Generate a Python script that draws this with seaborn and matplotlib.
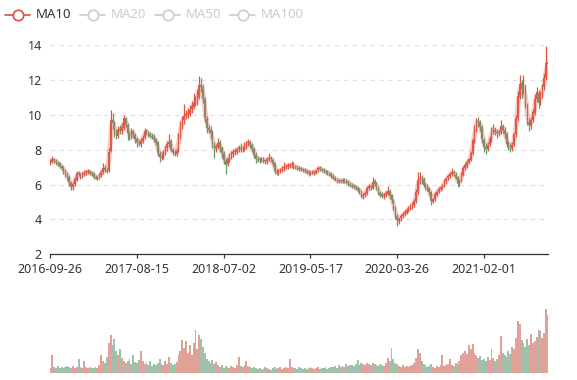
import matplotlib
matplotlib.use('Agg')
import matplotlib.pyplot as plt
from matplotlib.lines import Line2D
import numpy as np
import pandas as pd
import seaborn as sns

# weekly bars (one bar ~ 5 trading days)
tick_labels = ['2016-09-26', '2017-08-15', '2018-07-02', '2019-05-17', '2020-03-26', '2021-02-01']
tick_index = [0, 46, 92, 138, 184, 230]
legend_labels = ['MA10', 'MA20', 'MA50', 'MA100']

close = [
    7.32, 7.45, 7.38, 7.28, 7.20, 7.08, 6.95, 6.78, 6.62, 6.45,
    6.10, 5.85, 6.05, 6.30, 6.65, 6.60, 6.48, 6.60, 6.68, 6.72,
    6.75, 6.68, 6.62, 6.45, 6.40, 6.42, 6.55, 6.70, 6.95, 6.85,
    6.80, 7.90, 9.70, 9.55, 9.05, 8.85, 9.15, 9.10, 9.30, 9.80,
    9.45, 8.95, 8.80, 9.05, 8.85, 8.60, 8.45, 8.38, 8.50, 8.70,
    9.10, 9.00, 8.88, 8.82, 8.75, 8.62, 8.40, 7.80, 7.60, 7.65,
    7.85, 8.05, 8.35, 8.45, 8.00, 7.85, 7.80, 7.95, 8.80, 9.45,
    9.70, 9.95, 10.05, 10.10, 10.30, 10.50, 10.70, 10.85, 11.00, 11.70,
    11.60, 10.90, 9.80, 9.25, 9.15, 8.95, 8.30, 8.05, 8.20, 8.40,
    8.10, 7.80, 7.40, 7.15, 7.45, 7.65, 7.80, 7.85, 7.92, 8.00,
    8.10, 8.05, 8.05, 8.20, 8.35, 8.45, 8.25, 8.05, 7.70, 7.50,
    7.45, 7.42, 7.45, 7.40, 7.35, 7.45, 7.52, 7.45, 7.20, 6.80,
    6.72, 6.78, 6.85, 6.92, 7.02, 7.05, 7.08, 7.10, 7.15, 7.05,
    7.00, 6.95, 6.92, 6.88, 6.85, 6.80, 6.72, 6.65, 6.70, 6.72,
    6.68, 6.80, 6.95, 6.90, 6.84, 6.78, 6.72, 6.66, 6.60, 6.52,
    6.38, 6.28, 6.25, 6.22, 6.20, 6.24, 6.20, 6.15, 6.08, 6.00,
    5.92, 5.88, 5.80, 5.72, 5.60, 5.35, 5.40, 5.50, 5.80, 5.90,
    5.85, 6.15, 6.05, 5.85, 5.55, 5.42, 5.35, 5.40, 5.50, 5.62,
    5.35, 5.10, 4.70, 4.20, 3.95, 4.05, 4.20, 4.30, 4.42, 4.52,
    4.65, 4.75, 4.85, 5.05, 5.60, 6.25, 6.35, 6.30, 6.00, 5.90,
    5.80, 5.55, 5.05, 5.15, 5.45, 5.60, 5.75, 5.85, 5.95, 6.20,
    6.35, 6.50, 6.60, 6.70, 6.60, 6.40, 6.05, 6.25, 6.60, 6.95,
    7.10, 7.28, 7.45, 7.80, 8.55, 9.20, 9.60, 9.60, 9.30, 8.60,
    8.15, 8.05, 8.30, 8.60, 9.10, 9.12, 9.05, 8.95, 9.00, 9.35,
    9.15, 8.90, 8.35, 8.20, 8.10, 8.30, 8.90, 9.80, 11.10, 11.80,
    11.50, 11.60, 10.60, 9.60, 9.40, 9.70, 10.15, 10.90, 11.30, 10.70,
    11.20, 11.60, 12.10, 13.00, 12.90,
]

open_ = [
    7.25, 7.30, 7.46, 7.36, 7.27, 7.22, 7.06, 6.96, 6.80, 6.60,
    6.44, 6.12, 5.84, 6.06, 6.28, 6.66, 6.58, 6.47, 6.62, 6.66,
    6.73, 6.76, 6.66, 6.63, 6.46, 6.38, 6.43, 6.54, 6.72, 6.96,
    6.84, 6.82, 7.95, 9.72, 9.50, 9.08, 8.82, 9.18, 9.08, 9.28,
    9.82, 9.42, 8.98, 8.78, 9.08, 8.84, 8.62, 8.44, 8.36, 8.52,
    8.72, 9.12, 8.98, 8.90, 8.80, 8.76, 8.60, 8.42, 7.78, 7.58,
    7.66, 7.82, 8.08, 8.33, 8.48, 7.98, 7.88, 7.78, 7.96, 8.82,
    9.42, 9.72, 9.92, 10.08, 10.08, 10.32, 10.48, 10.72, 10.82, 11.02,
    11.72, 11.58, 10.92, 9.78, 9.28, 9.12, 8.98, 8.28, 8.08, 8.18,
    8.42, 8.08, 7.82, 7.38, 7.18, 7.42, 7.68, 7.78, 7.88, 7.90,
    8.02, 8.12, 8.02, 8.07, 8.18, 8.37, 8.44, 8.27, 8.02, 7.72,
    7.48, 7.46, 7.40, 7.47, 7.38, 7.33, 7.47, 7.54, 7.43, 7.22,
    6.78, 6.70, 6.80, 6.83, 6.94, 7.00, 7.07, 7.06, 7.12, 7.16,
    7.03, 7.02, 6.93, 6.94, 6.86, 6.86, 6.78, 6.74, 6.63, 6.71,
    6.73, 6.66, 6.82, 6.96, 6.88, 6.86, 6.76, 6.74, 6.64, 6.62,
    6.50, 6.40, 6.26, 6.26, 6.21, 6.18, 6.26, 6.18, 6.16, 6.06,
    5.98, 5.93, 5.86, 5.82, 5.70, 5.62, 5.33, 5.42, 5.52, 5.82,
    5.92, 5.82, 6.18, 6.02, 5.88, 5.53, 5.44, 5.33, 5.42, 5.48,
    5.64, 5.38, 5.08, 4.72, 4.18, 3.93, 4.07, 4.18, 4.32, 4.40,
    4.54, 4.63, 4.77, 4.83, 5.08, 5.58, 6.28, 6.33, 6.32, 5.98,
    5.92, 5.78, 5.57, 5.02, 5.17, 5.43, 5.62, 5.73, 5.87, 5.93,
    6.18, 6.37, 6.48, 6.62, 6.72, 6.58, 6.42, 6.03, 6.27, 6.58,
    6.97, 7.08, 7.30, 7.42, 7.82, 8.52, 9.24, 9.62, 9.58, 9.32,
    8.58, 8.18, 8.02, 8.32, 8.58, 9.08, 9.15, 9.02, 8.98, 9.03,
    9.38, 9.12, 8.92, 8.32, 8.22, 8.08, 8.32, 8.88, 9.82, 11.05,
    11.82, 11.45, 11.62, 10.58, 9.62, 9.38, 9.72, 10.12, 10.92, 11.28,
    10.72, 11.22, 11.58, 12.12, 13.05,
]

high = [
    7.45, 7.62, 7.55, 7.45, 7.38, 7.30, 7.15, 7.05, 6.90, 6.72,
    6.55, 6.20, 6.15, 6.42, 6.80, 6.78, 6.68, 6.72, 6.82, 6.85,
    6.88, 6.85, 6.78, 6.72, 6.55, 6.52, 6.68, 6.85, 7.25, 7.10,
    6.98, 8.10, 10.30, 10.10, 9.65, 9.20, 9.35, 9.40, 9.55, 10.00,
    9.90, 9.55, 9.10, 9.25, 9.20, 8.98, 8.75, 8.60, 8.65, 8.85,
    9.25, 9.22, 9.10, 9.02, 8.95, 8.88, 8.70, 8.50, 7.95, 7.85,
    8.00, 8.20, 8.50, 8.90, 8.60, 8.12, 8.00, 8.10, 8.95, 9.65,
    9.95, 10.65, 10.30, 10.40, 10.60, 10.80, 11.25, 11.10, 11.50, 12.25,
    12.10, 11.80, 11.05, 9.95, 9.45, 9.35, 9.15, 8.45, 8.35, 8.65,
    8.55, 8.20, 7.95, 7.55, 7.60, 7.80, 7.95, 8.05, 8.10, 8.15,
    8.25, 8.40, 8.20, 8.45, 8.50, 8.62, 8.55, 8.40, 8.15, 7.85,
    7.62, 7.60, 7.58, 7.60, 7.50, 7.58, 7.80, 7.65, 7.55, 7.30,
    6.90, 6.92, 6.98, 7.05, 7.30, 7.20, 7.22, 7.25, 7.35, 7.30,
    7.15, 7.10, 7.05, 7.04, 6.98, 6.98, 6.90, 6.85, 6.80, 6.85,
    6.82, 6.90, 7.05, 7.05, 6.98, 6.95, 6.85, 6.82, 6.75, 6.72,
    6.60, 6.48, 6.38, 6.35, 6.32, 6.40, 6.36, 6.30, 6.25, 6.15,
    6.10, 6.02, 5.98, 5.90, 5.82, 5.72, 5.52, 5.65, 5.95, 6.05,
    6.00, 6.45, 6.30, 6.15, 5.95, 5.65, 5.55, 5.52, 5.62, 5.90,
    5.75, 5.45, 5.15, 4.80, 4.30, 4.15, 4.30, 4.42, 4.52, 4.65,
    4.75, 4.88, 4.98, 5.20, 5.75, 6.70, 6.75, 6.55, 6.45, 6.10,
    6.05, 5.85, 5.65, 5.25, 5.55, 5.70, 5.85, 5.95, 6.05, 6.35,
    6.45, 6.62, 6.70, 6.95, 6.85, 6.70, 6.50, 6.35, 6.72, 7.05,
    7.25, 7.40, 7.55, 7.95, 8.70, 9.45, 9.85, 9.90, 9.70, 9.45,
    8.70, 8.40, 8.45, 8.80, 9.30, 9.50, 9.30, 9.20, 9.15, 9.70,
    9.50, 9.30, 9.05, 8.50, 8.40, 8.45, 9.05, 10.00, 11.40, 12.30,
    12.00, 12.30, 11.75, 10.70, 9.80, 9.90, 10.35, 11.20, 11.60, 11.45,
    11.40, 11.80, 12.40, 13.95, 13.40,
]

low = [
    7.15, 7.22, 7.25, 7.15, 7.08, 6.95, 6.82, 6.62, 6.45, 6.25,
    5.95, 5.70, 5.72, 5.95, 6.18, 6.48, 6.35, 6.38, 6.50, 6.55,
    6.60, 6.55, 6.50, 6.35, 6.30, 6.28, 6.35, 6.45, 6.62, 6.70,
    6.65, 6.75, 7.85, 9.20, 8.75, 8.62, 8.70, 8.90, 8.92, 9.15,
    9.30, 8.55, 8.55, 8.60, 8.65, 8.40, 8.15, 8.20, 8.15, 8.38,
    8.60, 8.85, 8.72, 8.65, 8.60, 8.45, 8.25, 7.65, 7.30, 7.40,
    7.50, 7.70, 7.95, 8.15, 7.85, 7.70, 7.65, 7.65, 7.85, 8.60,
    9.20, 9.50, 9.75, 9.80, 9.95, 10.10, 10.35, 10.50, 10.60, 10.90,
    11.30, 10.70, 9.60, 8.95, 8.95, 8.70, 8.10, 7.55, 7.90, 8.05,
    7.90, 7.55, 7.20, 6.60, 7.05, 7.30, 7.50, 7.60, 7.70, 7.75,
    7.85, 7.90, 7.85, 7.95, 8.05, 8.20, 8.10, 7.90, 7.55, 7.25,
    7.30, 7.25, 7.28, 7.25, 7.20, 7.20, 7.35, 7.30, 7.05, 6.60,
    6.55, 6.58, 6.68, 6.72, 6.80, 6.88, 6.92, 6.95, 6.98, 6.92,
    6.88, 6.84, 6.80, 6.76, 6.72, 6.68, 6.60, 6.52, 6.55, 6.60,
    6.58, 6.60, 6.75, 6.80, 6.72, 6.65, 6.60, 6.55, 6.48, 6.40,
    6.30, 6.18, 6.12, 6.10, 6.08, 6.08, 6.10, 6.02, 5.95, 5.88,
    5.80, 5.75, 5.68, 5.60, 5.48, 5.25, 5.20, 5.30, 5.40, 5.70,
    5.70, 5.75, 5.92, 5.72, 5.40, 5.30, 5.22, 5.20, 5.30, 5.38,
    5.20, 4.95, 4.55, 4.00, 3.60, 3.75, 3.92, 4.08, 4.20, 4.30,
    4.42, 4.52, 4.62, 4.72, 4.95, 5.45, 6.05, 6.05, 5.85, 5.72,
    5.65, 5.40, 4.85, 4.92, 5.05, 5.35, 5.52, 5.62, 5.75, 5.85,
    6.05, 6.25, 6.40, 6.50, 6.48, 6.30, 5.85, 5.90, 6.15, 6.50,
    6.85, 6.98, 7.20, 7.35, 7.70, 8.40, 9.05, 9.30, 9.10, 8.40,
    7.90, 7.75, 7.95, 8.20, 8.45, 8.90, 8.85, 8.65, 8.80, 8.90,
    8.95, 8.70, 8.15, 8.00, 7.85, 7.95, 8.20, 8.75, 9.65, 10.90,
    11.00, 11.20, 10.40, 9.40, 9.10, 9.20, 9.60, 10.00, 10.75, 10.40,
    10.55, 11.00, 11.45, 12.00, 12.45,
]

volume = [
    5, 18, 6, 5, 7, 5, 6, 5, 6, 7,
    6, 5, 7, 5, 6, 14, 6, 5, 12, 6,
    5, 6, 5, 5, 6, 5, 8, 18, 12, 10,
    16, 30, 38, 28, 34, 22, 18, 24, 15, 12,
    10, 12, 14, 9, 18, 11, 10, 13, 22, 12,
    9, 11, 8, 12, 7, 9, 8, 10, 14, 9,
    8, 12, 9, 16, 10, 8, 9, 11, 18, 22,
    33, 25, 32, 20, 28, 18, 30, 43, 24, 38,
    34, 26, 20, 14, 12, 10, 13, 9, 11, 8,
    6, 8, 5, 7, 6, 5, 7, 6, 5, 8,
    16, 7, 6, 8, 12, 7, 6, 5, 6, 5,
    4, 5, 3, 4, 6, 5, 4, 3, 5, 6,
    4, 5, 6, 4, 5, 6, 5, 14, 6, 5,
    5, 4, 6, 5, 4, 5, 4, 5, 6, 5,
    4, 5, 6, 4, 5, 5, 6, 4, 5, 6,
    6, 7, 5, 8, 6, 7, 6, 9, 7, 8,
    8, 7, 9, 13, 8, 10, 9, 8, 10, 9,
    8, 10, 9, 8, 7, 9, 8, 7, 10, 15,
    12, 25, 14, 10, 9, 7, 6, 8, 6, 7,
    6, 7, 8, 10, 15, 24, 20, 12, 9, 8,
    6, 7, 9, 6, 5, 7, 6, 8, 18, 7,
    8, 9, 14, 8, 7, 10, 9, 12, 18, 20,
    22, 19, 28, 24, 29, 20, 18, 15, 17, 13,
    14, 12, 16, 13, 24, 15, 12, 14, 18, 37,
    20, 18, 16, 22, 19, 26, 24, 35, 52, 49,
    33, 30, 26, 34, 28, 39, 30, 32, 36, 43,
    42, 35, 40, 64, 58,
]

sns.set_theme(style='white')
plt.rcParams['font.family'] = ['Noto Sans', 'DejaVu Sans']

df = pd.DataFrame({'open': open_, 'close': close, 'high': high, 'low': low, 'volume': volume})
df['idx'] = np.arange(len(df))
df['dir'] = np.where(df['close'] >= df['open'], 'up', 'down')
# 2 weekly bars ~ 10 trading days
df['ma10'] = df['close'].rolling(2, min_periods=1).mean()

UP, DOWN = '#e0533f', '#5a9e70'
pal = {'up': UP, 'down': DOWN}
W, H = 577, 380

fig = plt.figure(figsize=(W / 100, H / 100), dpi=100)
ax = fig.add_axes([50.3 / W, 1 - 254.3 / H, (548 - 50.3) / W, (254.3 - 45.3) / H])
axv = fig.add_axes([50.3 / W, 1 - 373 / H, (548 - 50.3) / W, 73 / H])

colors = df['dir'].map(pal)
ax.vlines(df['idx'], df['low'], df['high'], colors=colors, lw=0.9, zorder=2)
body = (df['close'] - df['open']).abs().clip(lower=0.04)
ax.bar(df['idx'], body, bottom=df[['open', 'close']].min(axis=1), width=0.8,
       color=colors, lw=0, zorder=2)
sns.lineplot(data=df, x='idx', y='ma10', ax=ax, color='#e8675a', lw=3.5, alpha=0.35, zorder=3)

ax.set_xlim(0, len(df) - 1)
ax.set_ylim(2, 14)
ax.set_yticks(range(2, 15, 2))
ax.set_xticks(tick_index)
ax.set_xticklabels(tick_labels)
ax.set_xlabel('')
ax.set_ylabel('')
ax.yaxis.grid(True, color='#e0e0e0', linestyle=(0, (4, 4)), lw=0.8)
ax.xaxis.grid(False)
for s in ['top', 'right', 'left']:
    ax.spines[s].set_visible(False)
ax.spines['bottom'].set_color('#333333')
ax.spines['bottom'].set_linewidth(0.9)
ax.tick_params(axis='y', length=0, pad=6, labelsize=9, labelcolor='#333333')
ax.tick_params(axis='x', length=3, direction='out', color='#333333', width=0.9,
               pad=3, labelsize=9, labelcolor='#333333', bottom=True)

sns.barplot(data=df, x='idx', y='volume', hue='dir', palette=pal, native_scale=True,
            dodge=False, width=1.0, alpha=0.6, errorbar=None, legend=False,
            linewidth=0, ax=axv)
axv.set_xlim(0, len(df) - 1)
axv.set_ylim(0, 73)
axv.axis('off')

# legend, only MA10 active
yl = 1 - 15 / H
for k, lab in enumerate(legend_labels):
    x0 = 5 + 75 * k
    c = '#d94e3f' if k == 0 else '#cccccc'
    tc = '#333333' if k == 0 else '#cccccc'
    fig.add_artist(Line2D([x0 / W, (x0 + 25) / W], [yl, yl], color=c, lw=1.2))
    fig.add_artist(Line2D([(x0 + 12.5) / W], [yl], marker='o', ms=7.5, mfc='white',
                          mec=c, mew=1.2))
    fig.text((x0 + 31) / W, yl, lab, va='center', ha='left', fontsize=9.5, color=tc)

fig.savefig('out.png', dpi=100)
